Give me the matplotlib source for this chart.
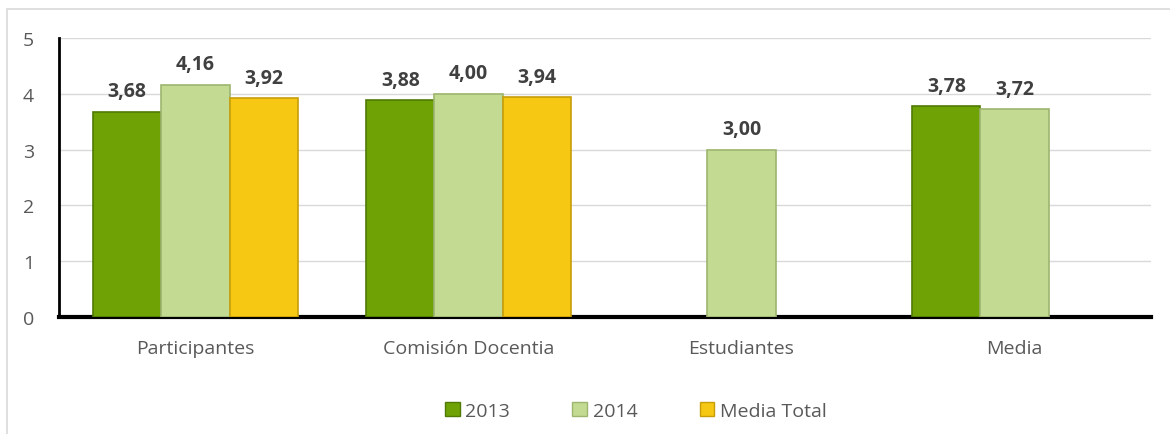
import numpy as np
import matplotlib
matplotlib.use("Agg")
import matplotlib.pyplot as plt
from matplotlib.patches import Patch, Rectangle

categories = ["Participantes", "Comisión Docentia", "Estudiantes", "Media"]
series_names = ["2013", "2014", "Media Total"]
values_2013 = [3.68, 3.88, np.nan, 3.78]
values_2014 = [4.16, 4.00, 3.00, 3.72]
values_total = [3.92, 3.94, np.nan, np.nan]
y_ticks = [0, 1, 2, 3, 4, 5]

colors = ["#6FA204", "#C3DA93", "#F6C814"]
edges = ["#4F7A05", "#9DB56E", "#C79E0A"]

plt.rcParams['font.family'] = ['Open Sans', 'DejaVu Sans']

fig = plt.figure(figsize=(11.7, 4.35), dpi=100)
fig.patches.append(Rectangle((7 / 1170, -0.1), 1.2, 1 - 10 / 435 + 0.1,
                             transform=fig.transFigure, fill=False,
                             edgecolor="#D9D9D9", linewidth=1.2))
ax = fig.add_axes([59 / 1170, 1 - 318 / 435, (1151 - 59) / 1170, (318 - 39) / 435])

x = np.arange(len(categories))
w = 0.25
series = [values_2013, values_2014, values_total]
for i, (vals, c, e, name) in enumerate(zip(series, colors, edges, series_names)):
    pos = x + (i - 1) * w
    v = np.array(vals, dtype=float)
    mask = ~np.isnan(v)
    ax.bar(pos[mask], v[mask], width=w, color=c, edgecolor=e, linewidth=1.2,
           zorder=3, label=name)
    for px, pv in zip(pos[mask], v[mask]):
        ax.annotate(f"{pv:.2f}".replace(".", ","), (px, pv), xytext=(0, 7.5),
                    textcoords="offset points", ha="center", va="bottom",
                    fontsize=14, fontweight="bold", color="#404040", zorder=4)

ax.set_xlim(-0.5, 3.5)
ax.set_ylim(0, 5)
ax.set_yticks(y_ticks)
ax.set_yticklabels([str(t) for t in y_ticks])
ax.set_xticks(x)
ax.set_xticklabels(categories)
ax.tick_params(axis="both", length=0, labelsize=14, colors="#595959")
ax.tick_params(axis="x", pad=16)
ax.tick_params(axis="y", pad=18)
ax.grid(axis="y", color="#D9D9D9", linewidth=1, zorder=0)
ax.set_axisbelow(True)
for s in ["top", "right"]:
    ax.spines[s].set_visible(False)
ax.spines["left"].set_linewidth(2)
ax.spines["bottom"].set_linewidth(3)
ax.spines["left"].set_color("black")
ax.spines["bottom"].set_color("black")

handles = [Patch(facecolor=c, edgecolor=e) for c, e in zip(colors, edges)]
fig.legend(handles, series_names, loc="center", bbox_to_anchor=(636 / 1170, 1 - 412 / 435),
           ncol=3, frameon=False, fontsize=14, handlelength=0.75, handleheight=0.75,
           handletextpad=0.3, columnspacing=3.2, labelcolor="#595959")

fig.savefig("out.png", dpi=100)
